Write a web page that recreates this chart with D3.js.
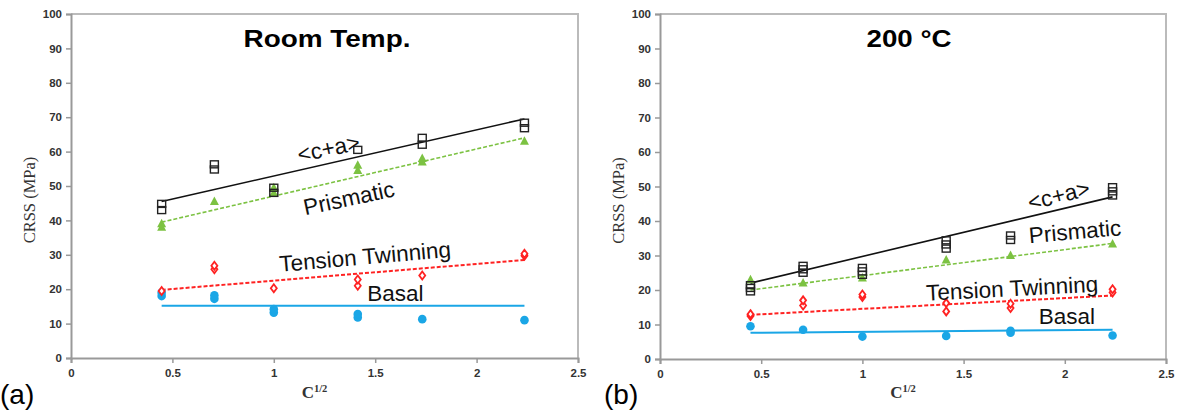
<!DOCTYPE html>
<html>
<head>
<meta charset="utf-8">
<script src="https://cdn.jsdelivr.net/npm/d3@7"></script>
<style>
  body { margin: 0; background: #fff; }
  svg { display: block; }
  .tick text { font-family: "Liberation Sans", Arial, sans-serif; font-weight: bold; font-size: 11.5px; fill: #333; }
</style>
</head>
<body>
<div id="chart"></div>
<script>
// C^1/2 positions (C = 0.2, 0.5, 1, 2, 3, 5)
const sqrtC = [0.447, 0.707, 1.0, 1.414, 1.732, 2.236];
const xTicks = [0, 0.5, 1, 1.5, 2, 2.5];
const yTicks = [0, 10, 20, 30, 40, 50, 60, 70, 80, 90, 100];

// Room temperature, measured CRSS values per C^1/2 position
const rtCA = [[43, 44.8], [54.8, 56.3], [48, 49.5], [60.5], [62, 64], [66.8, 68.4]];
const rtPrism = [[38, 39], [45.5], [48, 49.5], [54.5, 56], [57, 58], [63]];
const rtTwin = [[19.5], [25.8, 26.8], [20.3], [21, 22.8], [24], [29.7, 30.3]];
const rtBasal = [[18, 19], [17.2, 18.2], [13.2, 14.2], [11.8, 12.8], [11.3], [11]];
// fitted lines: value at first and last position
const rtFitCA = [45.5, 69.5];
const rtFitPrism = [39.5, 64];
const rtFitTwin = [19.8, 28.5];
const rtFitBasal = [15.2, 15.2];

// 200 °C
const htCA = [[19.6, 20.6, 21.4], [25, 26, 27], [24.4, 25.4, 26.4], [32, 33.2, 34.4], [34.5, 35.8], [47.4, 48.6, 49.8]];
const htPrism = [[23], [22], [23.5], [28.7], [30], [33.3]];
const htTwin = [[12.5, 13], [15.5, 17], [18, 18.7], [13.8, 16.2], [14.8, 16], [19.3, 20.2]];
const htBasal = [[9.5], [8.5], [6.5], [6.7], [7.6, 8.2], [6.8]];
const htFitCA = [22, 47];
const htFitPrism = [20, 33.5];
const htFitTwin = [12.8, 18.4];
const htFitBasal = [7.6, 8.5];

const W = 1180, H = 412;
const svg = d3.select('#chart').append('svg').attr('width', W).attr('height', H);

const colCA = '#111', colPrism = '#7cc242', colTwin = '#f22', colBasal = '#1aa6e6';

function drawPanel(p) {
  const x = d3.scaleLinear().domain([0, 2.5]).range([p.left, p.right]);
  const y = d3.scaleLinear().domain([0, 100]).range([p.bottom, p.top]);
  const g = svg.append('g');

  // frame (top and right in light gray)
  g.append('path')
    .attr('d', `M${p.left},${p.top}H${p.right}V${p.bottom}`)
    .attr('fill', 'none').attr('stroke', '#bbb').attr('stroke-width', 2);

  const yAxis = g.append('g').attr('transform', `translate(${p.left},0)`)
    .call(d3.axisLeft(y).tickValues(yTicks).tickSize(5).tickPadding(4));
  const xAxis = g.append('g').attr('transform', `translate(0,${p.bottom})`)
    .call(d3.axisBottom(x).tickValues(xTicks).tickSize(5).tickPadding(6)
      .tickFormat(d => String(d)));
  [yAxis, xAxis].forEach(a => {
    a.select('.domain').attr('stroke', '#999').attr('stroke-width', 2);
    a.selectAll('.tick line').attr('stroke', '#999').attr('stroke-width', 1.5);
  });

  // fitted lines
  const fits = [
    { v: p.fitBasal, c: colBasal, dash: null, w: 2 },
    { v: p.fitTwin, c: colTwin, dash: '4,2', w: 2 },
    { v: p.fitPrism, c: colPrism, dash: '4,2', w: 1.6 },
    { v: p.fitCA, c: colCA, dash: null, w: 1.6 }
  ];
  fits.forEach(f => {
    g.append('line')
      .attr('x1', x(sqrtC[0])).attr('x2', x(sqrtC[sqrtC.length - 1]))
      .attr('y1', y(f.v[0])).attr('y2', y(f.v[1]))
      .attr('stroke', f.c).attr('stroke-width', f.w)
      .attr('stroke-dasharray', f.dash);
  });

  const flat = arr => arr.flatMap((vals, i) => vals.map(v => ({ x: sqrtC[i], y: v })));

  g.selectAll('circle.basal').data(flat(p.basal)).enter().append('circle')
    .attr('cx', d => x(d.x)).attr('cy', d => y(d.y)).attr('r', 4.3)
    .attr('fill', colBasal);

  g.selectAll('path.twin').data(flat(p.twin)).enter().append('path')
    .attr('transform', d => `translate(${x(d.x)},${y(d.y)})`)
    .attr('d', 'M0,-4L3,0L0,4L-3,0Z')
    .attr('fill', '#fff').attr('stroke', colTwin).attr('stroke-width', 1.8);

  g.selectAll('path.prism').data(flat(p.prism)).enter().append('path')
    .attr('transform', d => `translate(${x(d.x)},${y(d.y)})`)
    .attr('d', 'M0,-5L4.5,3.5L-4.5,3.5Z')
    .attr('fill', colPrism);

  g.selectAll('rect.ca').data(flat(p.ca)).enter().append('rect')
    .attr('x', d => x(d.x) - 4).attr('y', d => y(d.y) - 3.5)
    .attr('width', 8).attr('height', 7)
    .attr('fill', 'none').attr('stroke', '#222').attr('stroke-width', 1.4);

  // series labels
  p.labels.forEach(l => {
    g.append('text')
      .attr('transform', `translate(${x(l.x)},${y(l.y)}) rotate(${l.a})`)
      .attr('text-anchor', 'middle').attr('dy', '0.35em')
      .attr('font-family', '"Liberation Sans", Arial, sans-serif')
      .attr('font-size', 22.5).attr('fill', '#111')
      .text(l.t);
  });

  // title
  g.append('text')
    .attr('x', p.titleX).attr('y', 47)
    .attr('text-anchor', 'middle')
    .attr('font-family', '"Liberation Sans", Arial, sans-serif')
    .attr('font-weight', 'bold').attr('font-size', 24)
    .attr('textLength', p.titleW).attr('lengthAdjust', 'spacingAndGlyphs')
    .text(p.title);

  // axis titles
  g.append('text')
    .attr('transform', `translate(${p.left - 36},${(p.top + p.bottom) / 2 + 14}) rotate(-90)`)
    .attr('text-anchor', 'middle')
    .attr('font-family', '"Liberation Serif", "Times New Roman", serif')
    .attr('font-size', 16.5).attr('fill', '#333')
    .text('CRSS (MPa)');
  const xt = g.append('text')
    .attr('x', x(1.25) - 10).attr('y', 398)
    .attr('text-anchor', 'middle')
    .attr('font-family', '"Liberation Serif", "Times New Roman", serif')
    .attr('font-weight', 'bold').attr('font-size', 17).attr('fill', '#333');
  xt.append('tspan').text('C');
  xt.append('tspan').attr('font-size', 10.5).attr('dy', -6).text('1/2');

  // panel letter
  g.append('text')
    .attr('x', p.letterX).attr('y', 404)
    .attr('font-family', '"Liberation Sans", Arial, sans-serif')
    .attr('font-size', 28).attr('fill', '#000')
    .text(p.letter);
}

drawPanel({
  left: 71, right: 578, top: 14, bottom: 358,
  ca: rtCA, prism: rtPrism, twin: rtTwin, basal: rtBasal,
  fitCA: rtFitCA, fitPrism: rtFitPrism, fitTwin: rtFitTwin, fitBasal: rtFitBasal,
  title: 'Room Temp.', titleX: 327, titleW: 167,
  letter: '(a)', letterX: 0,
  labels: [
    { t: '<c+a>', x: 1.27, y: 61, a: -12 },
    { t: 'Prismatic', x: 1.37, y: 46.5, a: -12 },
    { t: 'Tension Twinning', x: 1.45, y: 29.5, a: -5 },
    { t: 'Basal', x: 1.6, y: 19, a: 0 }
  ]
});

drawPanel({
  left: 660, right: 1166, top: 14, bottom: 359,
  ca: htCA, prism: htPrism, twin: htTwin, basal: htBasal,
  fitCA: htFitCA, fitPrism: htFitPrism, fitTwin: htFitTwin, fitBasal: htFitBasal,
  title: '200 °C', titleX: 909, titleW: 85,
  letter: '(b)', letterX: 604,
  labels: [
    { t: '<c+a>', x: 1.97, y: 47.5, a: -14 },
    { t: 'Prismatic', x: 2.05, y: 37, a: -5 },
    { t: 'Tension Twinning', x: 1.74, y: 20.5, a: -3 },
    { t: 'Basal', x: 2.01, y: 12.5, a: 0 }
  ]
});
</script>
</body>
</html>
